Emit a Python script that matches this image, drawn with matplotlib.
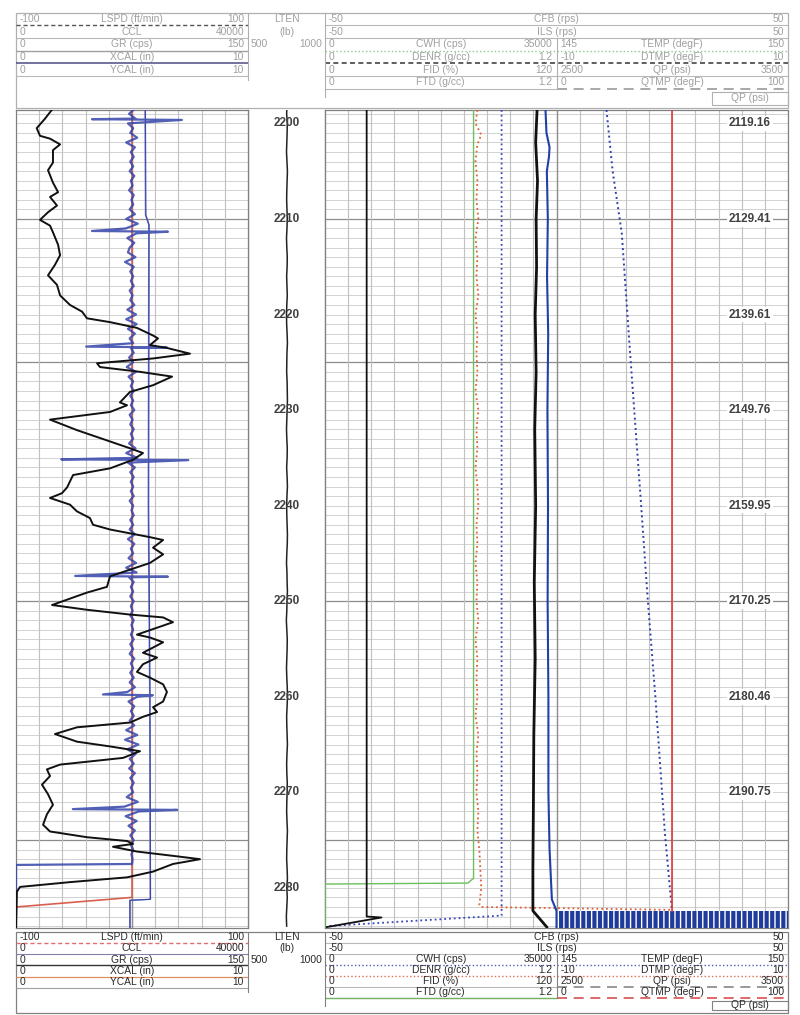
import matplotlib.pyplot as plt
import numpy as np

plt.rcParams['font.family'] = ['Liberation Sans', 'DejaVu Sans']
plt.rcParams['hatch.linewidth'] = 1.0

W, H = 800, 1015
Y_TOP, Y_BOT = 110, 928          # pixel rows of the log tracks
TOP, BOT = 2198.6, 2284.2        # depth range shown

# ---------------- left track: GR, CCL, LSPD, calipers ----------------
GR_DEPTH = [2198.6, 2199.5, 2200.5, 2201.3, 2201.6, 2202.2, 2202.8, 2204.1, 2204.9, 2206.2,
            2207.2, 2207.7, 2208.6, 2209.3, 2210.1, 2210.7, 2211.4, 2212.7, 2213.8, 2214.8,
            2215.9, 2216.9, 2218.0, 2219.0, 2219.7, 2220.4, 2220.8, 2221.4, 2222.2, 2222.5,
            2223.2, 2223.5, 2224.1, 2224.6, 2225.1, 2225.5, 2226.0, 2226.5, 2227.4, 2228.1,
            2229.2, 2229.5, 2230.2, 2231.0, 2232.1, 2234.0, 2234.5, 2235.2, 2236.1, 2236.8,
            2238.1, 2238.7, 2239.2, 2239.9, 2240.6, 2241.3, 2242.0, 2242.5, 2243.3, 2243.6,
            2244.4, 2245.1, 2246.0, 2246.7, 2247.4, 2248.5, 2249.1, 2250.4, 2250.9, 2251.4,
            2251.7, 2252.2, 2253.5, 2253.8, 2254.3, 2255.4, 2255.9, 2256.6, 2257.4, 2258.0,
            2258.7, 2259.5, 2260.5, 2261.1, 2261.6, 2262.1, 2262.7, 2263.2, 2263.9, 2264.7,
            2265.2, 2265.7, 2266.4, 2267.1, 2267.6, 2268.3, 2269.2, 2270.2, 2271.3, 2272.3,
            2273.4, 2274.1, 2274.7, 2275.1, 2275.4, 2275.7, 2276.2, 2276.7, 2277.0, 2277.5,
            2278.3, 2278.9, 2279.4, 2279.9, 2280.4, 2284.2]
GR = [23.1, 18.8, 13.4, 15.5, 22.0, 28.5, 23.9, 23.9, 20.7, 23.9,
      27.2, 22.0, 26.5, 20.7, 15.5, 22.0, 23.9, 27.2, 28.5, 25.2,
      20.7, 26.5, 28.5, 34.9, 42.7, 45.9, 60.8, 78.2, 88.6, 91.8,
      86.6, 97.6, 112.5, 88.6, 52.4, 54.3, 80.2, 100.9, 88.6, 73.7,
      67.2, 71.8, 60.8, 22.0, 39.4, 73.7, 82.1, 75.7, 60.8, 36.9,
      33.0, 29.7, 22.0, 34.9, 39.4, 47.8, 49.8, 60.8, 86.6, 95.1,
      88.6, 95.1, 86.6, 73.7, 60.8, 58.8, 45.9, 23.3, 45.9, 73.7,
      95.1, 101.5, 78.2, 86.6, 95.1, 82.1, 91.2, 82.1, 78.2, 86.6,
      95.1, 97.6, 95.1, 88.6, 91.2, 82.1, 73.7, 39.4, 25.2, 39.4,
      60.8, 80.2, 69.2, 28.5, 20.0, 22.0, 16.8, 20.7, 23.9, 20.0,
      17.5, 22.0, 45.9, 71.8, 75.7, 62.7, 78.2, 104.1, 119.0, 101.5,
      88.6, 71.8, 34.9, 2.6, 0.6, 0.0]

# CCL sampled every half foot from 2198.5 to 2277.5
CCL_DEPTH = np.arange(2198.5, 2277.51, 0.5)
CCL = [20400, 19500, 20600, 19300, 20200, 19700, 20900, 19000, 20500, 19800,
       20300, 19700, 20200, 19600, 20400, 19800, 20100, 19500, 20300, 19900,
       20200, 19600, 20500, 19000, 21000, 18900, 20800, 19200, 20400, 19600,
       19300, 20600, 18800, 20300, 19700, 20200, 19800, 20300, 19600, 20100,
       19700, 20400, 19200, 20700, 19000, 20800, 19300, 20500, 19600, 20200,
       19800, 20300, 19500, 20200, 19100, 20700, 19400, 20200, 19800, 20300,
       19700, 20200, 19800, 20400, 19600, 20100, 19700, 20300, 19800, 20200,
       19500, 20600, 19000, 20900, 19300, 20500, 19700, 20300, 19800, 20200,
       19800, 20300, 19600, 20200, 19900, 20300, 19700, 20200, 19600, 20500,
       19300, 20400, 19800, 20200, 19400, 20700, 19000, 20800, 19500, 20300,
       19800, 20200, 19700, 20300, 19800, 20100, 19700, 20300, 19900, 20200,
       19800, 20300, 19700, 20200, 19600, 20400, 19800, 20200, 19700, 20300,
       19600, 20500, 19200, 20900, 19400, 20400, 19800, 20300, 19600, 20400,
       19000, 20900, 18800, 21100, 19200, 20600, 19600, 20300, 19500, 20500,
       19700, 20300, 19800, 20200, 19100, 21000, 18700, 21200, 18900, 20800,
       19400, 20500, 19700, 20300, 19800, 20200, 19900, 20100, 20000]
SPIKE_DEPTH = [2199.6, 2211.3, 2223.4, 2235.2, 2247.4, 2259.8, 2271.8]
SPIKE_LO = [13100, 13100, 12100, 7800, 10200, 15000, 9800]
SPIKE_HI = [28600, 26200, 26000, 29700, 26200, 23600, 27800]
CCL_TAIL_DEPTH = [2277.6, 2284.2]
CCL_TAIL = [0, 0]

LSPD_DEPTH = [2198.6, 2281.0, 2282.0, 2284.2]
LSPD = [0, 0, -100, -100]

XCAL_DEPTH = [2198.6, 2209.6, 2210.6, 2240.0, 2260.0, 2281.2, 2281.3, 2284.2]
XCAL = [5.56, 5.58, 5.72, 5.70, 5.76, 5.78, 4.90, 4.90]
YCAL = [5.58, 5.60, 5.74, 5.72, 5.78, 5.80, 4.92, 4.92]

# ---------------- depth track: LTEN ----------------
LTEN_DEPTH = np.arange(2198, 2285)
LTEN = [753, 751, 755, 754, 752, 750, 753, 756, 754, 752,
        751, 753, 755, 753, 750, 752, 755, 754, 751, 753,
        755, 752, 750, 751, 754, 756, 753, 752, 751, 754,
        755, 756, 754, 752, 750, 752, 755, 754, 751, 754,
        756, 753, 751, 752, 754, 756, 755, 752, 750, 753,
        754, 756, 753, 752, 749, 752, 755, 754, 752, 750,
        752, 755, 756, 754, 751, 752, 754, 756, 753, 751,
        752, 755, 754, 752, 751, 753, 756, 754, 752, 751,
        754, 756, 752, 755, 752, 749, 751]
DEPTH_LABELS = ['2200', '2210', '2220', '2230', '2240', '2250', '2260', '2270', '2280']
LABEL_DEPTHS = [2200, 2210, 2220, 2230, 2240, 2250, 2260, 2270, 2280]
RIGHT_LABELS = ['2119.16', '2129.41', '2139.61', '2149.76', '2159.95', '2170.25', '2180.46', '2190.75']
MAJOR_DEPTHS = [2210, 2225, 2250, 2275]

# ---------------- right track ----------------
CFB_DEPTH = [2198.6, 2283.0, 2283.1, 2284.1]
CFB = [-41.0, -41.0, -37.8, -49.6]
ILS_DEPTH = [2198.6, 2202, 2206, 2210, 2215, 2220, 2226, 2232, 2240, 2248, 2256, 2264, 2272, 2278, 2282.4, 2284.1]
ILS = [-4.2, -4.5, -4.1, -4.4, -4.3, -4.6, -4.4, -4.7, -4.5, -4.8, -4.6, -4.9, -5.0, -5.1, -5.1, -2.1]
FID_DEPTH = [2198.6, 2201, 2202.5, 2203.5, 2205, 2210, 2216, 2222, 2230, 2240, 2250, 2260, 2270, 2276, 2281.2, 2282.4, 2284.2]
FID = [114.3, 114.8, 116.4, 116.1, 115.0, 115.5, 115.1, 115.7, 115.3, 115.6, 115.4, 115.8, 115.8, 116.4, 117.6, 120, 120]
FTD_DEPTH = [2198.6, 2279.0, 2279.5, 2279.6, 2284.2]
FTD = [0.77, 0.77, 0.74, 0.0, 0.0]
DENR_DEPTH = [2198.6, 2200.0, 2201.2, 2202.2, 2204, 2206, 2208, 2210, 2212, 2214,
              2216, 2218, 2220, 2222, 2224, 2226, 2228, 2230, 2232, 2234,
              2236, 2238, 2240, 2242, 2244, 2246, 2248, 2250, 2252, 2254,
              2256, 2258, 2260, 2262, 2264, 2266, 2268, 2270, 2272, 2274,
              2276, 2278, 2280, 2281.8, 2282.0, 2282.3]
DENR = [0.79, 0.78, 0.81, 0.79, 0.78, 0.79, 0.785, 0.795, 0.78, 0.79,
        0.785, 0.795, 0.78, 0.79, 0.785, 0.79, 0.78, 0.795, 0.785, 0.79,
        0.78, 0.79, 0.795, 0.785, 0.79, 0.78, 0.79, 0.785, 0.795, 0.78,
        0.79, 0.785, 0.79, 0.78, 0.795, 0.785, 0.79, 0.785, 0.795, 0.79,
        0.80, 0.805, 0.81, 0.80, 0.81, 1.80]
CWH_DEPTH = [2198.6, 2282.9, 2284.0]
CWH = [26700, 26700, 300]
TEMP_DEPTH = [2198.6, 2204.9, 2211.5, 2223.4, 2239.4, 2249.8, 2260.3, 2270.7, 2274.2, 2282.2]
TEMP = [146.08, 146.21, 146.41, 146.58, 146.82, 146.97, 147.14, 147.29, 147.34, 147.49]
DTMP_DEPTH = [2198.6, 2282.4]
DTMP = [0.0, 0.0]
QP_FILL_DEPTH = [2282.4, 2284.2]
QP_LO, QP_HI = 2500, 3500

# header rows: (low, name, high)
LEFT_ROWS = [('-100', 'LSPD (ft/min)', '100'), ('0', 'CCL', '40000'), ('0', 'GR (cps)', '150'),
             ('0', 'XCAL (in)', '10'), ('0', 'YCAL (in)', '10')]
FULL_ROWS = [('-50', 'CFB (rps)', '50'), ('-50', 'ILS (rps)', '50')]
HALF_L_ROWS = [('0', 'CWH (cps)', '35000'), ('0', 'DENR (g/cc)', '1.2'),
               ('0', 'FID (%)', '120'), ('0', 'FTD (g/cc)', '1.2')]
HALF_R_ROWS = [('145', 'TEMP (degF)', '150'), ('-10', 'DTMP (degF)', '10'),
               ('2500', 'QP (psi)', '3500'), ('0', 'QTMP (degF)', '100')]

X_L0, X_L1, X_D1, X_R1 = 16, 248, 325, 788
X_MID = (X_D1 + X_R1) / 2
FS = 7.4

fig = plt.figure(figsize=(W / 100, H / 100), dpi=100)

# header overlay in pixel coordinates
hdr = fig.add_axes([0, 0, 1, 1])
hdr.set_xlim(0, W)
hdr.set_ylim(H, 0)
hdr.axis('off')


def hline(y, x0, x1, **kw):
    hdr.plot([x0, x1], [y, y], solid_capstyle='butt', **kw)


def vline(x, y0, y1, **kw):
    hdr.plot([x, x], [y0, y1], **kw)


def row_text(x0, x1, yc, row, color):
    lo, name, hi = row
    hdr.text(x0 + 4, yc, lo, ha='left', va='center', color=color, fontsize=FS)
    hdr.text((x0 + x1) / 2, yc, name, ha='center', va='center', color=color, fontsize=FS)
    hdr.text(x1 - 4, yc, hi, ha='right', va='center', color=color, fontsize=FS)


def header(y0, rl, rr, y_end, tc, lc, styles):
    # left block
    ys = [y0 + rl * i for i in range(6)]
    for i, r in enumerate(LEFT_ROWS):
        row_text(X_L0, X_L1, (ys[i] + ys[i + 1]) / 2, r, tc)
    for i in range(1, 6):
        hline(ys[i], X_L0, X_L1, **styles['left'][i - 1])
    vline(X_L1, y0, ys[5] + 4, color=lc, lw=0.8)
    # LTEN block
    for i, t in enumerate(['LTEN', '(lb)']):
        hdr.text((X_L1 + X_D1) / 2, (ys[i] + ys[i + 1]) / 2, t, ha='center', va='center', color=tc, fontsize=FS)
    hdr.text(X_L1 + 3, (ys[2] + ys[3]) / 2, '500', ha='left', va='center', color=tc, fontsize=FS)
    hdr.text(X_D1 - 3, (ys[2] + ys[3]) / 2, '1000', ha='right', va='center', color=tc, fontsize=FS)
    # right block
    yr = [y0 + rr * i for i in range(7)]
    for i, r in enumerate(FULL_ROWS):
        row_text(X_D1, X_R1, (yr[i] + yr[i + 1]) / 2, r, tc)
    for i in range(4):
        yc = (yr[i + 2] + yr[i + 3]) / 2
        row_text(X_D1, X_MID, yc, HALF_L_ROWS[i], tc)
        row_text(X_MID, X_R1, yc, HALF_R_ROWS[i], tc)
    for i in range(1, 7):
        for seg, st in styles['right'][i - 1]:
            hline(yr[i], seg[0], seg[1], **st)
    vline(X_D1, y0, yr[6] + 8, color=lc, lw=0.8)
    vline(X_MID, yr[2], yr[6], color=lc, lw=0.8)
    # QP (psi) box
    qb0 = yr[6] + 3
    hdr.add_patch(plt.Rectangle((712, qb0), X_R1 - 712, y_end - 3 - qb0, fill=False, ec=lc, lw=0.8))
    hdr.text((712 + X_R1) / 2, (qb0 + y_end - 3) / 2, 'QP (psi)', ha='center', va='center', color=tc, fontsize=FS)
    # outer frame
    hdr.add_patch(plt.Rectangle((X_L0, y0), X_R1 - X_L0, y_end - y0, fill=False, ec=lc, lw=0.9))


g = dict(color='#b8b8b8', lw=0.8)
FULL = (X_D1, X_R1)
LH = (X_D1, X_MID)
RH = (X_MID, X_R1)
top_styles = {
    'left': [dict(color='#555555', lw=1.0, ls=(0, (3, 2))), g, dict(color='#a0a0a0', lw=1.0),
             dict(color='#5a5a8a', lw=1.2), g],
    'right': [[(FULL, g)], [(FULL, g)], [(FULL, dict(color='#8cc98c', lw=1.0, ls=':'))],
              [(FULL, dict(color='#444444', lw=1.2, ls=(0, (3, 2))))], [(FULL, g)],
              [(LH, g), (RH, dict(color='#9a9a9a', lw=1.2, ls=(0, (6, 4))))]],
}
bot_styles = {
    'left': [dict(color='#e07070', lw=1.0, ls=(0, (3, 2))), dict(color='#8080a8', lw=0.8),
             dict(color='#333333', lw=1.0), dict(color='#e09060', lw=0.9), dict(color='#a0a0a0', lw=0.8)],
    'right': [[(FULL, g)], [(FULL, g)], [(FULL, dict(color='#5060b0', lw=1.0, ls=':'))],
              [(FULL, dict(color='#e07050', lw=1.0, ls=':'))],
              [(LH, g), (RH, dict(color='#888888', lw=1.2, ls=(0, (6, 4))))],
              [(LH, dict(color='#70b060', lw=1.0)), (RH, dict(color='#d85050', lw=1.2, ls=(0, (6, 4))))]],
}
header(12.5, 12.7, 12.7, 108, '#a0a0a0', '#b0b0b0', top_styles)
header(931.5, 11.3, 11.0, 1013, '#2a2a2a', '#808080', bot_styles)


# ---------------- tracks ----------------
def track(x0, x1, lo, hi, frame=False):
    ax = fig.add_axes([x0 / W, 1 - Y_BOT / H, (x1 - x0) / W, (Y_BOT - Y_TOP) / H])
    ax.set_xlim(lo, hi)
    ax.set_ylim(BOT, TOP)
    ax.set_xticks([])
    ax.set_yticks([])
    ax.patch.set_alpha(0)
    for s in ax.spines.values():
        s.set_visible(frame)
        s.set_color('#808080')
        s.set_linewidth(0.9)
    return ax


def grid(ax, xs, centre):
    for d in range(2199, 2285):
        ax.axhline(d, color='#d2d2d2', lw=0.7, zorder=0)
    for d in MAJOR_DEPTHS:
        ax.axhline(d, color='#8c8c8c', lw=0.9, zorder=0)
    for x in xs:
        ax.axvline(x, color='#c0c0c0', lw=0.8, zorder=0)
    ax.axvline(centre, color='#8c8c8c', lw=1.0, zorder=0)


# left track
axL = track(X_L0, X_L1, 0, 150, frame=True)
grid(axL, np.linspace(0, 150, 11), 75)
axLSPD = track(X_L0, X_L1, -100, 100)
axLSPD.plot(LSPD, LSPD_DEPTH, color='#d9604f', lw=1.2)
axCCL = track(X_L0, X_L1, 0, 40000)
ccl = sorted(list(zip(CCL_DEPTH, CCL)) +
             [(d - 0.04, lo) for d, lo in zip(SPIKE_DEPTH, SPIKE_LO)] +
             [(d + 0.04, hi) for d, hi in zip(SPIKE_DEPTH, SPIKE_HI)] +
             list(zip(CCL_TAIL_DEPTH, CCL_TAIL)))
axCCL.plot([v for _, v in ccl], [d for d, _ in ccl], color='#3444aa', lw=1.6, alpha=0.85)
axCAL = track(X_L0, X_L1, 0, 10)
axCAL.plot(XCAL, XCAL_DEPTH, color='#6a6ab8', lw=0.9)
axCAL.plot(YCAL, XCAL_DEPTH, color='#3a4aa8', lw=0.8)
axGR = track(X_L0, X_L1, 0, 150)
axGR.plot(GR, GR_DEPTH, color='#111111', lw=1.4)

# depth track
axD = track(X_L1, X_D1, 500, 1000)
for x in (500, 1000):
    axD.axvline(x, color='#808080', lw=0.9)
axD.plot(LTEN, LTEN_DEPTH, color='#222222', lw=1.1)
for d, t in zip(LABEL_DEPTHS, DEPTH_LABELS):
    axD.text(0.5, d, t, transform=axD.get_yaxis_transform(), ha='center', va='center',
             fontsize=8.5, fontweight='bold', color='#404040')

# right track
axR = track(X_D1, X_R1, -50, 50, frame=True)
grid(axR, np.linspace(-50, 50, 21), 0)
for d, t in zip(LABEL_DEPTHS, RIGHT_LABELS):
    axR.text(0.918, d, t, transform=axR.get_yaxis_transform(), ha='center', va='center',
             fontsize=8.5, fontweight='bold', color='#404040',
             bbox=dict(boxstyle='square,pad=0.15', fc='white', ec='none'))

axQP = track(X_MID, X_R1, QP_LO, QP_HI)
axQP.fill_betweenx(QP_FILL_DEPTH, QP_LO, QP_HI, facecolor='#1f3c9c', edgecolor='white',
                   hatch='|||', lw=0)
axTEMP = track(X_MID, X_R1, 145, 150)
axTEMP.plot(TEMP, TEMP_DEPTH, color='#3040a8', lw=1.4, ls=':')
axDTMP = track(X_MID, X_R1, -10, 10)
axDTMP.plot(DTMP, DTMP_DEPTH, color='#e03a3a', lw=1.2)

axFTD = track(X_D1, X_MID, 0, 1.2)
axFTD.plot(FTD, FTD_DEPTH, color='#6cbf5c', lw=1.0)
axDENR = track(X_D1, X_MID, 0, 1.2)
axDENR.plot(DENR, DENR_DEPTH, color='#e0603a', lw=1.3, ls=':', clip_on=False)
axCWH = track(X_D1, X_MID, 0, 35000)
axCWH.plot(CWH, CWH_DEPTH, color='#3848b8', lw=1.3, ls=':')
axFID = track(X_D1, X_MID, 0, 120)
axFID.plot(FID, FID_DEPTH, color='#2040a8', lw=1.5)
axCFB = track(X_D1, X_R1, -50, 50)
axCFB.plot(CFB, CFB_DEPTH, color='#111111', lw=1.3)
axILS = track(X_D1, X_R1, -50, 50)
axILS.plot(ILS, ILS_DEPTH, color='#111111', lw=2.0)

fig.savefig('out.png', dpi=100)
